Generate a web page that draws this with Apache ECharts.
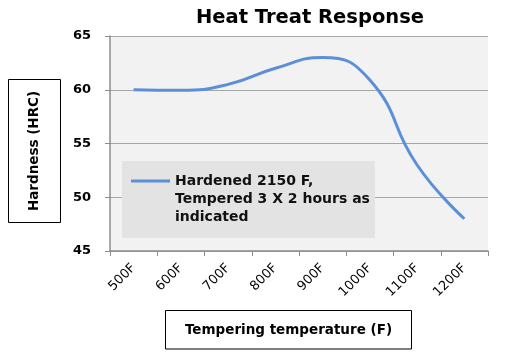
<!DOCTYPE html>
<html><head><meta charset="utf-8">
<script src="https://cdn.jsdelivr.net/npm/echarts@6/dist/echarts.min.js"></script>
<style>html,body{margin:0;padding:0;background:#fff}#c{width:508px;height:354px}</style>
</head><body><div id="c"></div>
<script>
const categories = ['500F', '600F', '700F', '800F', '900F', '1000F', '1100F', '1200F'];
const hardness = [60.0, 59.95, 60.5, 62.0, 63.0, 60.9, 53.0, 48.0];
const seriesName = 'Hardened 2150 F,\nTempered 3 X 2 hours as\nindicated';
const chartTitle = 'Heat Treat Response';
const yAxisTitle = 'Hardness (HRC)';
const xAxisTitle = 'Tempering temperature (F)';
const yMin = 45, yMax = 65, yStep = 5;

const FONT = 'DejaVu Sans';
const LINE_COLOR = '#5b8fd9';
const chart = echarts.init(document.getElementById('c'), null, {renderer: 'canvas'});
chart.setOption({
  animation: false,
  backgroundColor: '#ffffff',
  title: {
    text: chartTitle, left: 196, top: 8, padding: 0,
    textStyle: {fontFamily: FONT, fontWeight: 'bold', fontSize: 19.5, color: '#000'}
  },
  grid: {
    left: 110, top: 36, right: 20, bottom: 103,
    show: true, backgroundColor: '#f2f2f2', borderWidth: 0,
    outerBoundsMode: 'none'
  },
  legend: {
    left: 122, top: 161, orient: 'vertical',
    padding: [11, 5, 12, 9],
    backgroundColor: '#e3e3e3',
    itemWidth: 39, itemHeight: 54,
    icon: 'path://M0,0M0,7.5L39,7.5L39,10.5L0,10.5ZM0,54',
    itemStyle: {color: LINE_COLOR, borderWidth: 0},
    textStyle: {fontFamily: FONT, fontWeight: 'bold', fontSize: 14, lineHeight: 18, color: '#111'},
    selectedMode: false,
    data: [seriesName]
  },
  xAxis: {
    type: 'category', data: categories, boundaryGap: true,
    axisLine: {lineStyle: {color: '#8c8c8c', width: 1.5}},
    axisTick: {show: true, length: 5, lineStyle: {color: '#8c8c8c'}},
    axisLabel: {rotate: 45, margin: 15, fontFamily: FONT, fontSize: 13, color: '#000', interval: 0},
    splitLine: {show: false}
  },
  yAxis: {
    type: 'value', min: yMin, max: yMax, interval: yStep,
    axisLine: {show: true, lineStyle: {color: '#8c8c8c', width: 1.5}},
    axisTick: {show: true, length: 5, lineStyle: {color: '#8c8c8c'}},
    axisLabel: {margin: 19, fontFamily: FONT, fontWeight: 'bold', fontSize: 13, color: '#000'},
    splitLine: {show: true, lineStyle: {color: '#a6a6a6', width: 1}}
  },
  series: [{
    type: 'line', name: seriesName, data: hardness,
    smooth: 0.5, symbol: 'none',
    lineStyle: {color: LINE_COLOR, width: 3},
    itemStyle: {color: LINE_COLOR}
  }],
  graphic: [
    {type: 'rect', shape: {x: 8.5, y: 79.5, width: 52, height: 143},
     style: {fill: '#fff', stroke: '#000', lineWidth: 1}},
    {type: 'text', x: 34.5, y: 151, rotation: Math.PI / 2,
     style: {text: yAxisTitle, font: 'bold 13.5px "DejaVu Sans"', fill: '#000', align: 'center', verticalAlign: 'middle'}},
    {type: 'rect', shape: {x: 165.5, y: 310.5, width: 246, height: 38.5},
     style: {fill: '#fff', stroke: '#000', lineWidth: 1}},
    {type: 'text', x: 288.5, y: 330,
     style: {text: xAxisTitle, font: 'bold 13.5px "DejaVu Sans"', fill: '#000', align: 'center', verticalAlign: 'middle'}}
  ]
});
</script></body></html>
